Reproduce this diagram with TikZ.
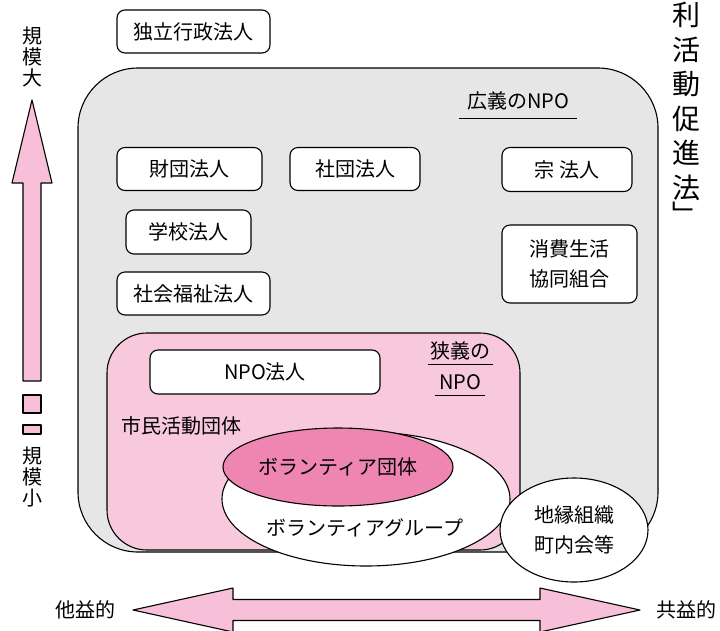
\documentclass[tikz,border=0pt]{standalone}
\usepackage{fontspec}
\setmainfont{Noto Sans CJK JP}
\usetikzlibrary{shapes.geometric}
\definecolor{grayfill}{HTML}{E6E6E6}
\definecolor{pinkfill}{HTML}{F8C8DC}
\definecolor{pinkdeep}{HTML}{EF86B2}
\definecolor{arrowpink}{HTML}{F8C0D8}
\newcommand{\jpfs}{\fontsize{20}{24}\selectfont}
\newcommand{\vtfs}{\fontsize{28}{32}\selectfont}
\begin{document}
\begin{tikzpicture}[x=1pt,y=-1pt,line join=round,
  lw/.style={line width=1.1pt},
  box/.style={draw,lw,rounded corners=8pt,fill=white,inner sep=0pt,font=\jpfs,align=center},
  lbl/.style={inner sep=0pt,font=\jpfs,align=center},
  ell/.style={draw,lw,ellipse,inner sep=0pt,font=\jpfs,align=center},
  vt/.style={inner sep=0pt,font=\vtfs},
  uline/.style={line width=1pt}]
\useasboundingbox (0,0) rectangle (720,630);

% big gray region
\node[draw,lw,fill=grayfill,rounded corners=60pt,minimum width=580pt,minimum height=484pt,inner sep=0pt] (wide) at (368,310) {};
% narrow NPO pink region
\node[draw,lw,fill=pinkfill,rounded corners=40pt,minimum width=413pt,minimum height=217pt,inner sep=0pt] (narrow) at (313.5,441.5) {};

% boxes
\node[box,minimum width=153pt,minimum height=43pt] (dokuritsu) at (193.5,31.5) {独立行政法人};
\node[box,minimum width=145pt,minimum height=43pt] (zaidan) at (189.5,169) {財団法人};
\node[box,minimum width=130pt,minimum height=43pt] (shadan) at (355,169) {社団法人};
\node[box,minimum width=130pt,minimum height=44pt] (shukyo) at (567,169.5) {宗 法人};
\node[box,minimum width=125pt,minimum height=44pt] (gakko) at (188.5,232) {学校法人};
\node[box,minimum width=153pt,minimum height=43pt] (fukushi) at (193.5,293.5) {社会福祉法人};
\node[box,minimum width=135pt,minimum height=78pt,font=\fontsize{20}{30}\selectfont] (seikyo) at (569.5,264) {消費生活\\協同組合};
\node[box,minimum width=230pt,minimum height=44pt] (npohojin) at (265,372) {NPO法人};

% labels with underlines
\node[lbl] (koginpo) at (518,101) {広義のNPO};
\draw[uline] (459,118) -- (577,118);
\node[lbl] (kyogi) at (460,351) {狭義の};
\draw[uline] (428,364) -- (493,364);
\node[lbl] (kyoginpo) at (460,382) {NPO};
\draw[uline] (435,395) -- (485,395);
\node[lbl,anchor=west] (shimin) at (121,426) {市民活動団体};

% ellipses
\node[ell,fill=white,minimum width=288pt,minimum height=134pt] (group) at (366,499) {};
\node[lbl] (grouplbl) at (365,528) {ボランティアグループ};
\node[ell,fill=pinkdeep,minimum width=230pt,minimum height=78pt] (dantai) at (338,467) {ボランティア団体};
\node[ell,fill=white,minimum width=148pt,minimum height=104pt,font=\fontsize{20}{30}\selectfont] (chien) at (574,530) {地縁組織\\町内会等};

% vertical scale arrow
\node[lbl] (dai) at (32,57) {規\\[-3pt]模\\[-3pt]大};
\node[lbl] (sho) at (32,477) {規\\[-3pt]模\\[-3pt]小};
\draw[lw,fill=arrowpink] (23,381) -- (23,183) -- (12,183) -- (32,100) -- (52,183) -- (41,183) -- (41,381) -- cycle;
\node[draw,lw,fill=arrowpink,minimum width=18pt,minimum height=18pt,inner sep=0pt] (sq1) at (32,404) {};
\node[draw,lw,fill=arrowpink,minimum width=18pt,minimum height=9pt,inner sep=0pt] (sq2) at (32,429.5) {};

% horizontal arrow
\draw[lw,fill=arrowpink] (133,610) -- (233,588) -- (233,599.5) -- (540,599.5) -- (540,588) -- (640,610) -- (540,632) -- (540,620.5) -- (233,620.5) -- (233,632) -- cycle;
\node[lbl] (taeki) at (85,610) {他益的};
\node[lbl] (kyoeki) at (686,610) {共益的};

% vertical text at right
\foreach \c [count=\i] in {利,活,動,促,進,法} {
  \node[vt] (v\i) at (686,{15+34.5*(\i-1)}) {\c};
}
\node[vt] (vbr) at (686,214) {﹂};
\end{tikzpicture}
\end{document}
